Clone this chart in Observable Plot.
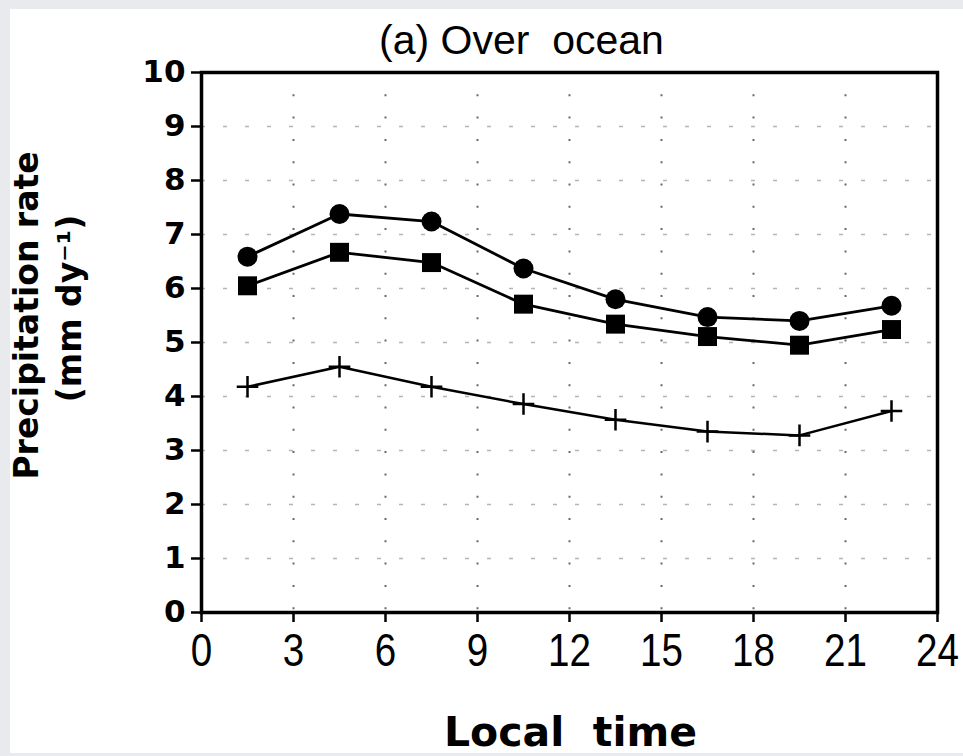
<!DOCTYPE html>
<html><head><meta charset="utf-8">
<script src="https://cdn.jsdelivr.net/npm/d3@7"></script>
<script src="https://cdn.jsdelivr.net/npm/@observablehq/plot@0.6"></script>
<style>
html,body{margin:0;padding:0;background:#e8eaee;}
#wrap{position:relative;width:963px;height:756px;overflow:hidden;}
#panel{position:absolute;left:10px;top:9px;width:953px;height:744px;background:#fff;}
#chart{position:absolute;left:0;top:0;}
</style></head><body>
<div id="wrap"><div id="panel"></div><div id="chart"></div></div>
<script>
// Data
const hours = [1.5, 4.5, 7.5, 10.5, 13.5, 16.5, 19.5, 22.5];
const circleValues = [6.59, 7.38, 7.24, 6.37, 5.80, 5.47, 5.40, 5.68];
const squareValues = [6.05, 6.67, 6.48, 5.71, 5.34, 5.11, 4.95, 5.24];
const plusValues = [4.18, 4.55, 4.18, 3.86, 3.57, 3.35, 3.28, 3.73];
const xTicks = [0, 3, 6, 9, 12, 15, 18, 21, 24];
const yTicks = [0, 1, 2, 3, 4, 5, 6, 7, 8, 9, 10];
const titleText = "(a) Over\u00A0\u00A0ocean";
const xLabel = "Local\u00A0\u00A0time";
const yLabel1 = "Precipitation rate";
const yLabel2 = "(mm\u00A0dy\u207B\u00B9)";

const rows = vals => hours.map((h, i) => ({hour: h, value: vals[i]}));
const circles = rows(circleValues);
const squares = rows(squareValues);
const pluses = rows(plusValues);

const chart = Plot.plot({
  width: 963,
  height: 756,
  marginLeft: 201,
  marginRight: 26,
  marginTop: 72,
  marginBottom: 144,
  style: {background: "transparent", color: "black"},
  x: {domain: [0, 24]},
  y: {domain: [0, 10]},
  marks: [
    Plot.gridY(yTicks.slice(1, -1), {stroke: "#b5b5b5", strokeOpacity: 1, strokeWidth: 1.5, strokeDasharray: "4,18"}),
    Plot.gridX(xTicks.slice(1, -1), {stroke: "#6a6a6a", strokeOpacity: 1, strokeWidth: 2, strokeDasharray: "2,20.3"}),
    Plot.frame({stroke: "black", strokeWidth: 3.5}),
    Plot.line(circles, {x: "hour", y: "value", stroke: "black", strokeWidth: 2.8}),
    Plot.line(squares, {x: "hour", y: "value", stroke: "black", strokeWidth: 2.8}),
    Plot.line(pluses, {x: "hour", y: "value", stroke: "black", strokeWidth: 2.5}),
    Plot.dot(circles, {x: "hour", y: "value", r: 10, fill: "black", symbol: "circle"}),
    Plot.dot(squares, {x: "hour", y: "value", r: 10.7, fill: "black", symbol: "square"}),
    Plot.dot(pluses, {x: "hour", y: "value", r: 7, stroke: "black", strokeWidth: 2.5, symbol: "plus"}),
    Plot.axisX(xTicks, {anchor: "bottom", tickSize: 10, tickPadding: 11, strokeWidth: 2.5, fontSize: 46,
      tickFormat: d => String(d), fontFamily: "'Liberation Sans', sans-serif", label: null}),
    Plot.axisY(yTicks, {anchor: "left", tickSize: 10, tickPadding: 6, strokeWidth: 2.5, fontSize: 31,
      tickFormat: d => String(d), fontFamily: "'DejaVu Sans', sans-serif", fontWeight: "bold", label: null}),
    Plot.text([titleText], {text: d => d, frameAnchor: "top", lineAnchor: "bottom", textAnchor: "middle",
      dx: -48, dy: -19, fontSize: 41, fontFamily: "'Liberation Sans', sans-serif"}),
    Plot.text([xLabel], {text: d => d, frameAnchor: "bottom", lineAnchor: "bottom", textAnchor: "middle",
      dx: 1, dy: 133, fontSize: 41, fontWeight: "bold", fontFamily: "'DejaVu Sans', sans-serif"}),
    Plot.text([yLabel1], {text: d => d, frameAnchor: "left", lineAnchor: "bottom", textAnchor: "middle", rotate: -90,
      dx: -164, dy: -27, fontSize: 33, fontWeight: "bold", fontFamily: "'DejaVu Sans', sans-serif"}),
    Plot.text([yLabel2], {text: d => d, frameAnchor: "left", lineAnchor: "bottom", textAnchor: "middle", rotate: -90,
      dx: -121, dy: -34, fontSize: 33, fontWeight: "bold", fontFamily: "'DejaVu Sans', sans-serif"})
  ]
});
// condense the x tick labels horizontally (the reference uses a narrow face)
d3.select(chart).selectAll('g[aria-label="x-axis tick label"] text').each(function() {
  const t = this.getAttribute("transform") || "";
  this.setAttribute("transform", t + " scale(0.84,1)");
});
document.getElementById("chart").appendChild(chart);
</script>
</body></html>
